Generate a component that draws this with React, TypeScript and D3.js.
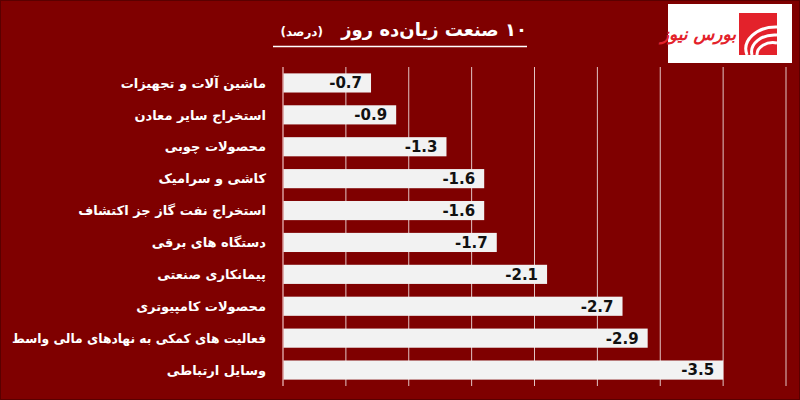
import React from "react";
import * as d3 from "d3";

const categories = [
  "ماشین آلات و تجهیزات",
  "استخراج سایر معادن",
  "محصولات چوبی",
  "کاشی و سرامیک",
  "استخراج نفت گاز جز اکتشاف",
  "دستگاه های برقی",
  "پیمانکاری صنعتی",
  "محصولات کامپیوتری",
  "فعالیت های کمکی به نهادهای مالی واسط",
  "وسایل ارتباطی",
];
const values = [-0.7, -0.9, -1.3, -1.6, -1.6, -1.7, -2.1, -2.7, -2.9, -3.5];
const gridTicks = [0.5, 1, 1.5, 2, 2.5, 3, 3.5, 4];
const titleMain = "۱۰ صنعت زیان‌ده روز";
const titleUnit = "(درصد)";
const logoText = "بورس نیوز";

const W = 800;
const H = 400;
const BG = "#7f0000";

export default function App() {
  const x = d3.scaleLinear().domain([0, 4]).range([283, 786]);
  const y = d3
    .scaleBand<string>()
    .domain(categories)
    .range([67, 386])
    .paddingInner(0.4)
    .paddingOuter(0.2);
  const font = "'DejaVu Sans', Tahoma, sans-serif";
  const labelRight = 266;
  const maxLabelW = 254;

  return (
    <div style={{ position: "fixed", left: 0, top: 0 }}>
      <svg width={W} height={H} style={{ display: "block" }}>
        <rect x={0} y={0} width={W} height={H} fill={BG} />
        <rect x={0.5} y={0.5} width={W - 1} height={H - 1} fill="none" stroke="#5a0000" strokeWidth={1} />

        {/* gridlines */}
        {gridTicks.map((t) => (
          <line key={t} x1={x(t)} x2={x(t)} y1={67} y2={386} stroke="#e2c4c4" strokeWidth={1} />
        ))}

        {/* bars */}
        {categories.map((c, i) => {
          const v = Math.abs(values[i]);
          const y0 = y(c)!;
          const bw = y.bandwidth();
          const long = c.length > 30;
          return (
            <g key={c}>
              <rect x={x(0)} y={y0} width={x(v) - x(0)} height={bw} fill="#f2f2f2" />
              <text
                x={x(v) - 9}
                y={y0 + bw / 2}
                dy="0.36em"
                textAnchor="end"
                fontFamily={font}
                fontWeight="bold"
                fontSize={15}
                fill="#111"
              >
                {values[i].toFixed(1)}
              </text>
              <text
                x={labelRight}
                y={y0 + bw / 2}
                dy="0.36em"
                textAnchor="start"
                direction="rtl"
                fontFamily={font}
                fontWeight="bold"
                fontSize={13}
                fill="#fff"
                {...(long ? { textLength: maxLabelW, lengthAdjust: "spacingAndGlyphs" } : {})}
              >
                {c}
              </text>
            </g>
          );
        })}

        {/* axis line */}
        <line x1={x(0)} x2={x(0)} y1={67} y2={386} stroke="#d99a9a" strokeWidth={1.5} />

        {/* title */}
        <text
          x={527}
          y={36}
          textAnchor="start"
          direction="rtl"
          fontFamily={font}
          fontWeight="bold"
          fontSize={18}
          fill="#fff"
        >
          {titleMain}
        </text>
        <text
          x={323}
          y={36}
          textAnchor="start"
          direction="rtl"
          fontFamily={font}
          fontWeight="bold"
          fontSize={12}
          fill="#fff"
        >
          {titleUnit}
        </text>
        <line x1={273} x2={527} y1={46.5} y2={46.5} stroke="#fff" strokeWidth={1.5} />

        {/* logo */}
        <rect x={668} y={4} width={124} height={59} fill="#fff" />
        <g>
          <rect x={739} y={13} width={38} height={42} fill="#e3222b" />
          {[0, 1, 2].map((k) => (
            <path
              key={k}
              d={`M ${777} ${27 + k * 8} A ${30 - k * 7} ${22 - k * 5} 0 0 0 ${747 + k * 5} ${55}`}
              fill="none"
              stroke="#fff"
              strokeWidth={3}
            />
          ))}
        </g>
        <text
          x={736}
          y={40}
          textAnchor="start"
          direction="rtl"
          fontFamily={font}
          fontStyle="italic"
          fontWeight="bold"
          fontSize={17}
          fill="#e3222b"
        >
          {logoText}
        </text>
      </svg>
    </div>
  );
}
